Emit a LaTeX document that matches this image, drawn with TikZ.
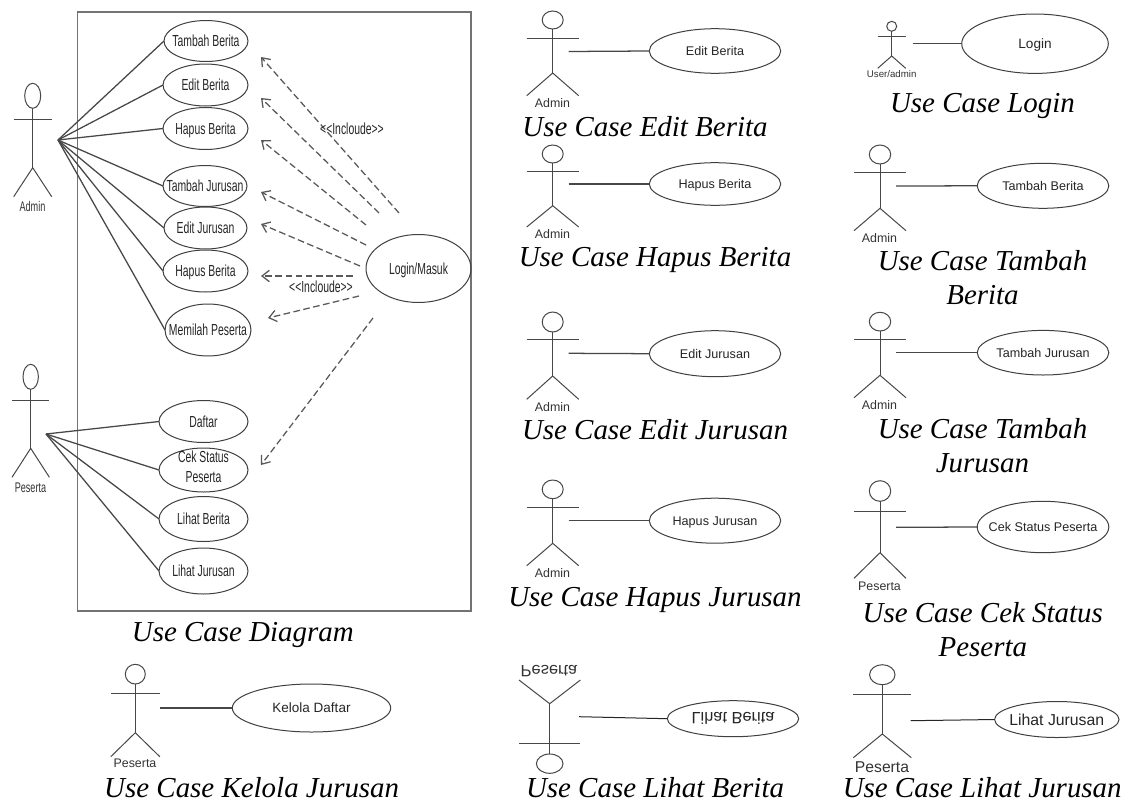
\documentclass[tikz,border=0pt]{standalone}
\usepackage{graphicx}
\usepackage{fontspec}
\usetikzlibrary{shapes.geometric,arrows.meta}
\setmainfont{Liberation Sans}
\newfontfamily\capf{Liberation Serif}
\newfontfamily\narrowf[FakeStretch=0.65]{Liberation Sans}
\newcommand\pxfont[1]{\fontsize{\dimexpr#1pt*3/4\relax}{\dimexpr#1pt*9/10\relax}\selectfont}
\newcommand\ctext[1]{\makebox[0pt]{\raisebox{-.36em}[0pt][0pt]{#1}}}
\newcommand\fliptext[1]{\makebox[0pt]{\raisebox{.36em}[0pt][0pt]{\scalebox{1}[-1]{#1}}}}
\tikzset{
  x=.75pt,y=-.75pt,
  stick/.style={draw=black!72,line width=.75pt},
  headshape/.style={shape=ellipse,draw=black!72,line width=.75pt,inner sep=0pt,outer sep=0pt},
  ucase/.style 2 args={shape=ellipse,draw=black!75,line width=.75pt,inner sep=0pt,outer sep=0pt,
    minimum width=#1*1.5pt,minimum height=#2*1.5pt,text=black!85},
  assoc/.style={draw=black!72,line width=.95pt},
  incl/.style={draw=black!65,line width=.95pt,dash pattern=on 5pt off 2.6pt,
    -{Straight Barb[length=5.5pt,width=8.5pt]}},
  actorlabel/.style={inner sep=0pt,text=black!80},
  narrowlabel/.style={inner sep=0pt,text=black!85,font=\narrowf\pxfont{16}},
  captiontext/.style={inner sep=0pt,anchor=base,align=center,text=black,
    font=\capf\itshape\fontsize{21.7}{25.2}\selectfont},
  sysbox/.style={draw=black!55,line width=.9pt,inner sep=0pt,outer sep=0pt},
}
% id, cx, head top, head bottom, head rx, arm y, arm half-width, hip y, foot y
\newcommand\stickman[9]{%
  \node[headshape,minimum width=#5*1.5pt,minimum height={(#4-#3)*.75pt}] (#1-h) at (#2,{(#3+#4)/2}) {};
  \coordinate (#1-hip) at (#2,#8);
  \coordinate (#1-al) at ({#2-#7},#6);
  \coordinate (#1-ar) at ({#2+#7},#6);
  \coordinate (#1-fl) at ({#2-#7},#9);
  \coordinate (#1-fr) at ({#2+#7},#9);
  \draw[stick] (#1-h) -- (#1-hip);
  \draw[stick] (#1-al) -- (#1-ar);
  \draw[stick] (#1-fl) -- (#1-hip) -- (#1-fr);
}
\begin{document}
\begin{tikzpicture}
\useasboundingbox (0,0) rectangle (1130,803);
\fill[white] (0,0) rectangle (1130,803);

% ---------- main diagram ----------
\node[sysbox,minimum width=393.5*.75pt,minimum height=599*.75pt] (sys) at (274.25,311.5) {};

\stickman{adm}{32.7}{83.3}{108.3}{8}{119}{19}{167.7}{196.7}
\node[actorlabel,font=\narrowf\pxfont{14}] (adml) at (32.5,206) {Admin};
\coordinate (admp) at (58,140);

\stickman{pes}{30.7}{364.3}{389.3}{7.7}{400.7}{18.7}{448.3}{477.3}
\node[actorlabel,font=\narrowf\pxfont{14}] (pesl) at (30.5,487.3) {Peserta};
\coordinate (pesp) at (46,434);

\begin{scope}[every node/.append style={font=\narrowf\pxfont{16}}]
\node[ucase={42}{20.5}] (u1) at (206,41) {\ctext{Tambah Berita}};
\node[ucase={42.5}{21}] (u2) at (205.5,85) {\ctext{Edit Berita}};
\node[ucase={42.5}{21}] (u3) at (205.5,128.5) {\ctext{Hapus Berita}};
\node[ucase={42}{20.5}] (u4) at (205,186) {\ctext{Tambah Jurusan}};
\node[ucase={41.5}{21}] (u5) at (205.5,228) {\ctext{Edit Jurusan}};
\node[ucase={42.5}{21}] (u6) at (205.5,271) {\ctext{Hapus Berita}};
\node[ucase={43}{26}] (u7) at (208,330) {\ctext{Memilah Peserta}};
\node[ucase={44.5}{21}] (u8) at (203.5,421.5) {\ctext{Daftar}};
\node[ucase={44.5}{22}] (u9) at (203.5,470) {\makebox[0pt]{\raisebox{-2pt}[0pt][0pt]{\begin{tabular}{@{}c@{}}Cek Status\\Peserta\end{tabular}}}};
\node[ucase={44.5}{22.5}] (u10) at (203.5,519) {\ctext{Lihat Berita}};
\node[ucase={44.5}{23}] (u11) at (203.5,571) {\ctext{Lihat Jurusan}};
\node[ucase={52.5}{34}] (log) at (418.5,268.5) {\ctext{Login/Masuk}};
\end{scope}

\foreach \t in {u1,u2,u3,u4,u5,u6,u7} \draw[assoc] (admp) -- (\t.west);
\foreach \t in {u8,u9,u10,u11} \draw[assoc] (pesp) -- (\t.west);

\coordinate (s1) at (399,213); \coordinate (e1) at (261,57);
\coordinate (s2) at (379,213); \coordinate (e2) at (261,98);
\coordinate (s3) at (366,225); \coordinate (e3) at (261,140);
\coordinate (s4) at (366,245); \coordinate (e4) at (261,192);
\coordinate (s5) at (360,266); \coordinate (e5) at (261,224);
\coordinate (s6) at (353,276); \coordinate (e6) at (261,276);
\coordinate (s7) at (359,296); \coordinate (e7) at (268,318);
\coordinate (s8) at (373,318); \coordinate (e8) at (261,465);
\foreach \i in {1,...,8} \draw[incl] (s\i) -- (e\i);

\node[narrowlabel] (il1) at (352,129) {{<}{<}Incloude{>}{>}};
\node[narrowlabel] (il2) at (321,287) {{<}{<}Incloude{>}{>}};

% ---------- small diagrams ----------
\stickman{a1}{552.7}{11}{29}{10.5}{38}{26}{73}{95.7}
\node[actorlabel,font=\pxfont{12.4}] (a1l) at (552.5,102.7) {Admin};
\node[ucase={65.7}{22.3},font=\pxfont{12.6}] (b1) at (715,51) {\ctext{Edit Berita}};
\coordinate (p1) at (568.7,51.5); \draw[assoc] (p1) -- (b1.west);

\stickman{a2}{552.7}{145}{163}{10.5}{171}{26}{205.7}{227}
\node[actorlabel,font=\pxfont{12.4}] (a2l) at (552.5,234) {Admin};
\node[ucase={65.7}{21.3},font=\pxfont{12.6}] (b2) at (715,184) {\ctext{Hapus Berita}};
\coordinate (p2) at (568.7,184); \draw[assoc] (p2) -- (b2.west);

\stickman{a3}{552.7}{312}{332}{10.5}{339.7}{26}{376}{399.3}
\node[actorlabel,font=\pxfont{12.4}] (a3l) at (552.5,406.7) {Admin};
\node[ucase={65.7}{23},font=\pxfont{12.6}] (b3) at (715,353.7) {\ctext{Edit Jurusan}};
\coordinate (p3) at (568.7,353.3); \draw[assoc] (p3) -- (b3.west);

\stickman{a4}{552.7}{480}{498.7}{10.5}{507}{26}{543.3}{565.7}
\node[actorlabel,font=\pxfont{12.4}] (a4l) at (552.5,572.7) {Admin};
\node[ucase={65.7}{22.5},font=\pxfont{12.6}] (b4) at (715,520.7) {\ctext{Hapus Jurusan}};
\coordinate (p4) at (568.7,520.7); \draw[assoc] (p4) -- (b4.west);

\stickman{a5}{891.7}{21.3}{31.3}{5}{36.3}{14}{56}{68.3}
\node[actorlabel,font=\pxfont{9.7}] (a5l) at (891.7,74) {User/admin};
\node[ucase={73.3}{29.7},font=\pxfont{13.6}] (b5) at (1035,43.7) {\ctext{Login}};
\coordinate (p5) at (912.7,43.7); \draw[assoc] (p5) -- (b5.west);

\stickman{a6}{880}{145}{164}{10.7}{172}{26}{208.3}{230.7}
\node[actorlabel,font=\pxfont{12.4}] (a6l) at (879.5,237.7) {Admin};
\node[ucase={65.8}{22.5},font=\pxfont{12.6}] (b6) at (1043,185.8) {\ctext{Tambah Berita}};
\coordinate (p6) at (896,186); \draw[assoc] (p6) -- (b6.west);

\stickman{a7}{880}{312.3}{331}{10.7}{339}{26}{375.3}{397.7}
\node[actorlabel,font=\pxfont{12.4}] (a7l) at (879.5,404.7) {Admin};
\node[ucase={65.8}{22.3},font=\pxfont{12.6}] (b7) at (1043,352.7) {\ctext{Tambah Jurusan}};
\coordinate (p7) at (896,352.7); \draw[assoc] (p7) -- (b7.west);

\stickman{a8}{880}{480.7}{501.3}{10.7}{511.3}{26}{552.7}{578.3}
\node[actorlabel,font=\pxfont{12.4}] (a8l) at (879.5,586.7) {Peserta};
\node[ucase={65.8}{25.7},font=\pxfont{12.6}] (b8) at (1043,527) {\ctext{Cek Status Peserta}};
\coordinate (p8) at (896,527.3); \draw[assoc] (p8) -- (b8.west);

\stickman{a9}{135.3}{664.3}{684}{10}{693.3}{24.5}{732.7}{756.7}
\node[actorlabel,font=\pxfont{12.4}] (a9l) at (135,763.7) {Peserta};
\node[ucase={79.2}{24},font=\pxfont{13.5}] (b9) at (311.5,708) {\ctext{Kelola Daftar}};
\coordinate (p9) at (160,708); \draw[assoc] (p9) -- (b9.west);

\stickman{a10}{549.7}{754}{773.3}{13.3}{743.3}{30.7}{703.7}{680}
\node[actorlabel,font=\pxfont{16.4}] (a10l) at (549,671.7) {\fliptext{Peserta}};
\node[ucase={65.7}{18},font=\pxfont{16.4}] (b10) at (733,718.7) {\fliptext{Lihat Berita}};
\coordinate (p10) at (579,716.7); \draw[assoc,line width=.75pt,draw=black!85] (p10) -- (b10.west);

\stickman{a11}{882.3}{664.7}{684.7}{12.7}{694}{29}{734}{757.7}
\node[actorlabel,font=\pxfont{15.7}] (a11l) at (882,766.7) {Peserta};
\node[ucase={62.2}{18},font=\pxfont{15.8}] (b11) at (1056.8,719.5) {\ctext{Lihat Jurusan}};
\coordinate (p11) at (910.7,720.7); \draw[assoc,line width=.75pt,draw=black!85] (p11) -- (b11.west);

% ---------- captions ----------
\node[captiontext] (c0) at (242.8,641.7) {Use Case Diagram};
\node[captiontext] (c1) at (251.7,797.5) {Use Case Kelola Jurusan};
\node[captiontext] (c2) at (645,136.7) {Use Case Edit Berita};
\node[captiontext] (c3) at (655,266.7) {Use Case Hapus Berita};
\node[captiontext] (c4) at (655,439.3) {Use Case Edit Jurusan};
\node[captiontext] (c5) at (655,606) {Use Case Hapus Jurusan};
\node[captiontext] (c6) at (982.5,112.7) {Use Case Login};
\node[captiontext] (c7) at (982.5,304) {Use Case Tambah\\Berita};
\node[captiontext] (c8) at (982.5,472.3) {Use Case Tambah\\Jurusan};
\node[captiontext] (c9) at (982.8,656) {Use Case Cek Status\\Peserta};
\node[captiontext] (c10) at (655,797.5) {Use Case Lihat Berita};
\node[captiontext] (c11) at (982.2,797.5) {Use Case Lihat Jurusan};
\end{tikzpicture}
\end{document}
